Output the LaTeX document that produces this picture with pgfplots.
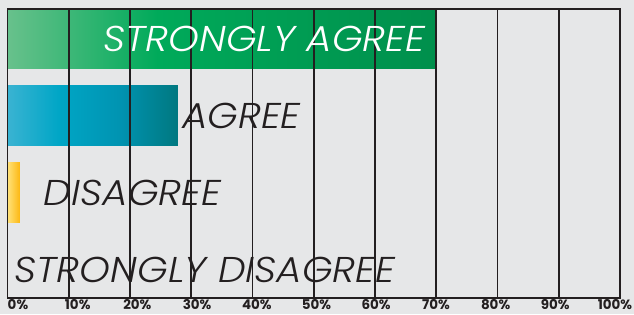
\documentclass[border=0pt]{standalone}
\usepackage{pgfplots}
\pgfplotsset{compat=1.18}
\usepackage{fontspec}
\setmainfont{Poppins}
\newfontfamily\lab[UprightFont={Poppins Light Italic}, FakeStretch=1.09]{Poppins Light Italic}
\definecolor{bg}{HTML}{E6E7E8}
\definecolor{ink}{HTML}{231F20}
\definecolor{gA}{HTML}{68C18C}
\definecolor{gB}{HTML}{00AA5A}
\definecolor{gC}{HTML}{008F4C}
\definecolor{tA}{HTML}{3AB3D2}
\definecolor{tB}{HTML}{00A6C6}
\definecolor{tM}{HTML}{0094B2}
\definecolor{tC}{HTML}{007880}
\definecolor{yA}{HTML}{FFE27A}
\definecolor{yB}{HTML}{FDB813}
\pgfdeclarehorizontalshading{greensh}{100bp}{color(0bp)=(gA); color(25bp)=(gA); color(42.5bp)=(gB); color(75bp)=(gC); color(100bp)=(gC)}
\pgfdeclarehorizontalshading{tealsh}{100bp}{color(0bp)=(tA); color(25bp)=(tA); color(40bp)=(tB); color(57.5bp)=(tM); color(75bp)=(tC); color(100bp)=(tC)}
\begin{document}
\begin{tikzpicture}[x=1bp,y=1bp]
\fill[bg] (0,0) rectangle (634,314);
\useasboundingbox (0,0) rectangle (634,314);
\begin{axis}[
  at={(7.5bp,16.3bp)}, anchor=south west,
  scale only axis=true, width=612.5bp, height=288.7bp,
  xmin=0, xmax=100, ymin=-0.359, ymax=3.382,
  xtick={1.71,11.46,21.20,30.95,40.70,50.45,60.19,69.94,79.69,89.43,99.18},
  xticklabels={0\%,10\%,20\%,30\%,40\%,50\%,60\%,70\%,80\%,90\%,100\%},
  ytick=\empty,
  xticklabel style={font=\fontsize{13.5}{13.5}\selectfont\bfseries, text=ink, inner sep=0pt, yshift=-1.5bp},
  /pgf/number format/assume math mode=true,
  major tick length=0,
  extra x ticks={0,10,...,100},
  extra x tick labels={},
  extra x tick style={grid=major, major tick length=0},
  major grid style={line width=1.6bp, draw=ink},
  axis line style={line width=1.8bp, draw=ink},
  axis on top=true,
  axis background/.style={fill=bg},
  xbar, bar width=0.775, bar shift=0pt,
]
\addplot[draw=none, shading=greensh] coordinates {(70,3)};
\addplot[draw=none, shading=tealsh] coordinates {(27.8,2)};
\addplot[draw=none, left color=yA, right color=yB] coordinates {(2,1)};
\addplot[draw=none, fill=none] coordinates {(0,0)};
\coordinate (sa) at (axis cs:68.2,3);
\coordinate (ag) at (axis cs:28.5,2);
\coordinate (di) at (axis cs:5.9,1);
\coordinate (sd) at (axis cs:1.1,0);
\end{axis}
\begin{scope}[every node/.style={inner sep=0pt, font=\fontsize{36}{36}\lab}]
\node[anchor=east, text=white] at (sa) {STRONGLY AGREE};
\node[anchor=west, text=ink] at (ag) {AGREE};
\node[anchor=west, text=ink] at (di) {DISAGREE};
\node[anchor=west, text=ink] at (sd) {STRONGLY DISAGREE};
\end{scope}
\end{tikzpicture}
\end{document}
